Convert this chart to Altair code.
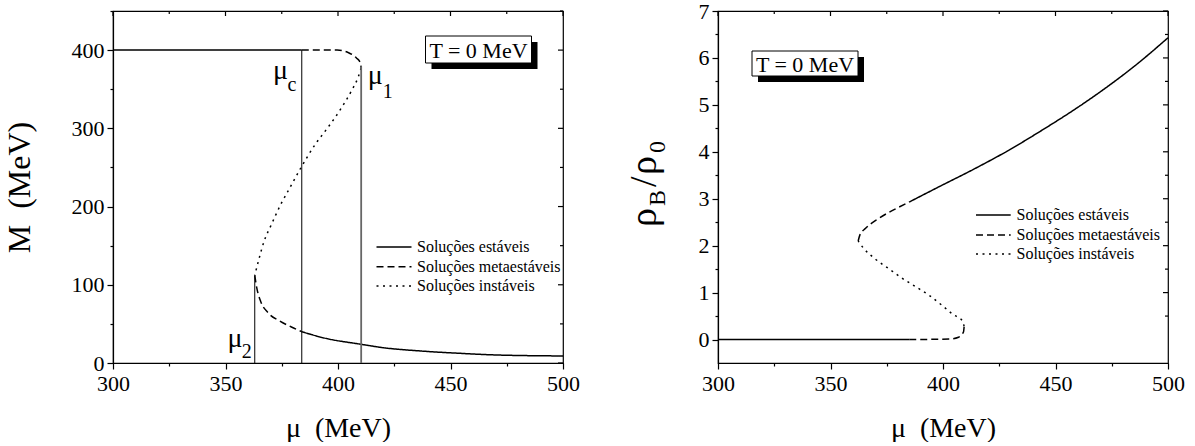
import altair as alt
import pandas as pd

FONT = "Liberation Serif"
NB = "\u00a0\u00a0"
KINDS = ["Soluções estáveis", "Soluções metaestáveis", "Soluções instáveis"]
DASHES = [[1, 0], [7, 4], [2, 4.5]]

# ---------------- M(mu) branches at T = 0 ----------------
m_stable_hi_mu = [300, 383.9]
m_stable_hi_M = [400, 400]
m_meta_hi_mu = [383.9, 399.6, 404.7, 408.2, 409.9, 410.3]
m_meta_hi_M = [400, 400, 396.7, 390, 384, 377]
m_unst_mu = [410.3, 408.9, 406.0, 401.5, 395.5, 390.0, 383.6, 378.6, 374.6, 370.4, 367.2, 364.6, 363.0]
m_unst_M = [377, 365, 348, 326, 301, 280, 250, 224, 203, 177, 156, 130, 112]
m_meta_lo_mu = [363.0, 363.9, 365.6, 369.0, 374.1, 379.3, 383.9]
m_meta_lo_M = [112, 96, 79, 64, 53.7, 46, 40]
m_stable_lo_mu = [383.9, 394.6, 410.3, 420, 437, 454, 471, 500]
m_stable_lo_M = [40, 31.5, 23.9, 19.6, 15.3, 12.4, 10.2, 9]

# critical chemical potentials and the height of their marker lines
crit_names = ["c", "1", "2"]
crit_mu = [383.9, 410.3, 363.0]
crit_top = [400, 379, 112]

# ---------------- rho_B/rho_0 branches at T = 0 ----------------
r_stable_lo_mu = [300, 385]
r_stable_lo_rho = [0, 0]
r_meta_lo_mu = [385, 402.7, 406.9, 409.1, 409.4]
r_meta_lo_rho = [0, 0.01, 0.05, 0.16, 0.28]
r_unst_mu = [409.4, 408.6, 404.6, 399.5, 393.9, 387.7, 381.4, 375.9, 369.8, 364.6, 362.3]
r_unst_rho = [0.28, 0.40, 0.53, 0.73, 0.94, 1.13, 1.32, 1.51, 1.72, 1.95, 2.10]
r_meta_hi_mu = [362.3, 363.0, 365.6, 370.1, 375.2, 380.4, 385]
r_meta_hi_rho = [2.10, 2.22, 2.37, 2.54, 2.69, 2.82, 2.93]
r_stable_hi_mu = [385, 397.6, 414.5, 428, 444, 460, 472, 486, 500]
r_stable_hi_rho = [2.93, 3.24, 3.65, 4.0, 4.46, 4.95, 5.35, 5.86, 6.43]

# tick positions
x_all = list(range(300, 501, 25))
yl_all = list(range(0, 451, 50))
yr_all = [i * 0.5 for i in range(0, 15)]

W, H = 450, 352


def branch_frame(branches):
    rows = []
    for bid, (kind, mus, vals) in enumerate(branches):
        for i, (m, v) in enumerate(zip(mus, vals)):
            rows.append({"mu": m, "val": v, "kind": kind, "branch": bid, "idx": i})
    return pd.DataFrame(rows)


def cond_size(test, big, small):
    return {"condition": {"test": test, "value": big}, "value": small}


def curves(df, xs, ys, xaxis, yaxis):
    return alt.Chart(df).mark_line(color="black", strokeWidth=1.5, interpolate="monotone").encode(
        x=alt.X("mu:Q", scale=xs, axis=xaxis),
        y=alt.Y("val:Q", scale=ys, axis=yaxis),
        detail="branch:N",
        order=alt.Order("idx:Q"),
        strokeDash=alt.StrokeDash("kind:N", scale=alt.Scale(domain=KINDS, range=DASHES), legend=None),
    )


def frame_ticks(xs, ys, xvals, yvals, x_step, y_step):
    # inward ticks along the top and right edges of the frame
    x_maj = [v for v in xvals if v % x_step == 0]
    x_min = [v for v in xvals if v % x_step != 0]
    y_maj = [v for v in yvals if v % y_step == 0]
    y_min = [v for v in yvals if v % y_step != 0]
    out = []
    for vals, size in ((x_maj, 5), (x_min, 3)):
        out.append(alt.Chart(pd.DataFrame({"t": vals})).mark_rule(color="black", strokeWidth=1.2).encode(
            x=alt.X("t:Q", scale=xs, axis=None), y=alt.value(0), y2=alt.value(size)))
    for vals, size in ((y_maj, 5), (y_min, 3)):
        out.append(alt.Chart(pd.DataFrame({"t": vals})).mark_rule(color="black", strokeWidth=1.2).encode(
            y=alt.Y("t:Q", scale=ys, axis=None), x=alt.value(W - size), x2=alt.value(W)))
    return out


def legend_layers(x0, x1, xt, ys):
    out = []
    for kind, dash, yy in zip(KINDS, DASHES, ys):
        one = pd.DataFrame({"kind": [kind]})
        out.append(alt.Chart(one).mark_rule(color="black", strokeWidth=1.5, strokeDash=dash).encode(
            x=alt.value(x0), x2=alt.value(x1), y=alt.value(yy)))
        out.append(alt.Chart(one).mark_text(align="left", baseline="middle", font=FONT,
                                            fontSize=16, color="black").encode(
            x=alt.value(xt), y=alt.value(yy), text="kind:N"))
    return out


def temp_box(x0, x1, y0, y1):
    one = pd.DataFrame({"label": ["T = 0 MeV"]})
    shadow = alt.Chart(one).mark_rect(color="black").encode(
        x=alt.value(x0 + 6), x2=alt.value(x1 + 6), y=alt.value(y0 + 6), y2=alt.value(y1 + 6))
    box = alt.Chart(one).mark_rect(fill="white", stroke="black", strokeWidth=1).encode(
        x=alt.value(x0), x2=alt.value(x1), y=alt.value(y0), y2=alt.value(y1))
    txt = alt.Chart(one).mark_text(font=FONT, fontSize=22, color="black", baseline="middle").encode(
        x=alt.value((x0 + x1) / 2), y=alt.value((y0 + y1) / 2 + 1), text="label:N")
    return [shadow, box, txt]


x_scale = alt.Scale(domain=[300, 500], nice=False, zero=False)


def x_axis():
    return alt.Axis(orient="bottom", values=x_all,
                    labelExpr="datum.value % 50 === 0 ? format(datum.value, 'd') : ''",
                    tickSize=cond_size("datum.value % 50 === 0", 6, 3),
                    labelFont=FONT, labelFontSize=22, titleFont=FONT,
                    labelFlush=False, labelOverlap=False, labelPadding=4,
                    title="μ" + NB + "(MeV)", titleFontSize=28, titlePadding=20, grid=False)


# ---------------- left panel ----------------
left_df = branch_frame([
    (KINDS[0], m_stable_hi_mu, m_stable_hi_M),
    (KINDS[1], m_meta_hi_mu, m_meta_hi_M),
    (KINDS[2], m_unst_mu, m_unst_M),
    (KINDS[1], m_meta_lo_mu, m_meta_lo_M),
    (KINDS[0], m_stable_lo_mu, m_stable_lo_M),
])
yl_scale = alt.Scale(domain=[0, 450], nice=False)
yl_axis = alt.Axis(orient="left", values=yl_all,
                   labelExpr="datum.value % 100 === 0 ? format(datum.value, 'd') : ''",
                   tickSize=cond_size("datum.value % 100 === 0", 6, 3),
                   labelFont=FONT, labelFontSize=22, titleFont=FONT,
                   labelOverlap=False, labelPadding=3,
                   title="M" + NB + "(MeV)", titleFontSize=32, titlePadding=35, grid=False)

crit_df = pd.DataFrame({"mu": crit_mu, "top": crit_top, "base": [0, 0, 0],
                        "col": ["black", "#666666", "black"], "w": [1.0, 1.8, 1.0]})
crit_lines = alt.Chart(crit_df).mark_rule().encode(
    x=alt.X("mu:Q", scale=x_scale, axis=None),
    y=alt.Y("base:Q", scale=yl_scale, axis=None), y2="top:Q",
    color=alt.Color("col:N", scale=None), strokeWidth=alt.StrokeWidth("w:Q", scale=None))

# mu labels with subscripts, anchored in data space next to the marker lines
lab_df = pd.DataFrame({
    "txt": ["μ", crit_names[0], "μ", crit_names[1], "μ", crit_names[2]],
    "mu": [371.1, 377.6, 413.2, 419.9, 350.9, 357.2],
    "val": [363.0, 347.5, 357.0, 338.6, 20.4, 5.8],
    "fs": [28, 20, 28, 20, 28, 20],
})
crit_labels = alt.Chart(lab_df).mark_text(align="left", baseline="alphabetic", font=FONT,
                                          color="black").encode(
    x=alt.X("mu:Q", scale=x_scale, axis=None), y=alt.Y("val:Q", scale=yl_scale, axis=None),
    text="txt:N", size=alt.Size("fs:Q", scale=None))

left = alt.layer(
    curves(left_df, x_scale, yl_scale, x_axis(), yl_axis),
    crit_lines,
    crit_labels,
    *frame_ticks(x_scale, yl_scale, x_all, yl_all, 50, 100),
    *legend_layers(263.5, 298.5, 304, [236, 255.7, 275]),
    *temp_box(312.5, 418.5, 25, 52),
).resolve_axis(x="independent", y="independent").properties(width=W, height=H)

# ---------------- right panel ----------------
right_df = branch_frame([
    (KINDS[0], r_stable_lo_mu, r_stable_lo_rho),
    (KINDS[1], r_meta_lo_mu, r_meta_lo_rho),
    (KINDS[2], r_unst_mu, r_unst_rho),
    (KINDS[1], r_meta_hi_mu, r_meta_hi_rho),
    (KINDS[0], r_stable_hi_mu, r_stable_hi_rho),
])
yr_scale = alt.Scale(domain=[-0.5, 7], nice=False, zero=False)
yr_axis = alt.Axis(orient="left", values=yr_all,
                   labelExpr="datum.value % 1 === 0 ? format(datum.value, 'd') : ''",
                   tickSize=cond_size("datum.value % 1 === 0", 6, 3),
                   labelFont=FONT, labelFontSize=22,
                   labelOverlap=False, labelPadding=3, title=None, grid=False)

# rotated axis title rho_B / rho_0 built from pieces so the subscripts sit low
title_df = pd.DataFrame({
    "txt": ["ρ", "B", "/", "ρ", "0"],
    "px": [-62, -53, -62, -62, -53],
    "py": [216, 195, 176, 164, 142],
    "fs": [38, 24, 38, 38, 24],
})
rho_title = alt.Chart(title_df).mark_text(align="left", baseline="alphabetic", angle=270,
                                          font=FONT, color="black").encode(
    x=alt.X("px:Q", scale=None, axis=None), y=alt.Y("py:Q", scale=None, axis=None),
    text="txt:N", size=alt.Size("fs:Q", scale=None))

right = alt.layer(
    curves(right_df, x_scale, yr_scale, x_axis(), yr_axis),
    *frame_ticks(x_scale, yr_scale, x_all, yr_all[1:], 50, 1),
    rho_title,
    *legend_layers(258, 292.7, 298.5, [204, 224, 243]),
    *temp_box(34, 140, 40, 65),
).resolve_axis(x="independent", y="independent").properties(width=W, height=H)

chart = alt.hconcat(left, right, spacing=44).properties(
    padding={"left": 2, "top": -1, "right": 0, "bottom": -1}
).configure_view(stroke="black", strokeWidth=1.2).configure_axis(
    labelFont=FONT, labelFontSize=22, labelColor="black",
    titleFont=FONT, titleFontWeight="normal", titleColor="black",
    domainColor="black", domainWidth=1.2, tickColor="black", tickWidth=1.2,
).configure_concat(spacing=44)

chart.save("out.html", embed_options={"renderer": "svg", "actions": False})
